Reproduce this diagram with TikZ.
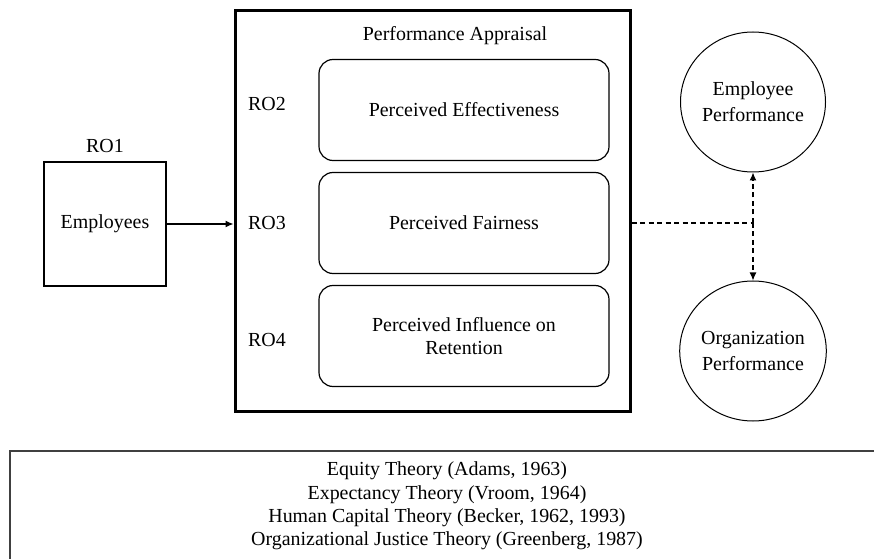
\documentclass[tikz,border=0pt]{standalone}
\usepackage{fontspec}
\setmainfont{Liberation Serif}
\usetikzlibrary{arrows.meta,positioning,shapes.geometric}
\begin{document}
\begin{tikzpicture}[x=1bp,y=-1bp,
  every node/.style={font=\fontsize{20}{23.5}\selectfont},
  inbox/.style={draw,rounded corners=14bp,line width=1.2bp,minimum width=290bp,minimum height=101bp,align=center},
  bubble/.style={draw,ellipse,line width=1bp,minimum width=145bp,minimum height=140bp,align=center,inner sep=0pt,
    font=\fontsize{20}{26}\selectfont},
  tip/.style={-{Latex[length=8bp,width=7bp]}},
  dashline/.style={line width=1.2bp,dash pattern=on 5bp off 3.5bp}]
\useasboundingbox (0,0) rectangle (874,559);
\node [draw,line width=1.2bp,minimum width=122bp,minimum height=124bp] (emp) at (105,224) {Employees};
\node [above=5bp of emp] (ro1) {RO1};
\node [draw,line width=3bp,minimum width=395bp,minimum height=400bp] (pa) at (432.5,211) {};
\node (patitle) at (455,36) {Performance Appraisal};
\node [inbox] (eff) at (464,110) {Perceived Effectiveness};
\node [inbox] (fair) at (464,223) {Perceived Fairness};
\node [inbox] (ret) at (464,336) {Perceived Influence on\\Retention};
\node (ro2) at (267,104) {RO2};
\node (ro3) at (267,223) {RO3};
\node (ro4) at (267,340) {RO4};
\node [bubble] (emppf) at (753,102) {Employee\\Performance};
\node [bubble] (orgpf) at (753,351) {Organization\\Performance};
\draw [tip,line width=1.2bp] (emp.east) -- (pa.west |- emp.east);
\coordinate (junc) at (emppf.south |- fair.east);
\draw [dashline] (pa.east |- fair.east) -- (junc);
\draw [dashline,tip] (junc) -- (emppf.south);
\draw [dashline,tip] (junc) -- (orgpf.north);
% theories (box runs off the page at right and bottom)
\draw [black!75,line width=1.8bp] (900,451) -- (10,451) -- (10,600);
\node [align=center] (theory) at (447,506) {Equity Theory (Adams, 1963)\\Expectancy Theory (Vroom, 1964)\\Human Capital Theory (Becker, 1962, 1993)\\Organizational Justice Theory (Greenberg, 1987)};
\end{tikzpicture}
\end{document}
